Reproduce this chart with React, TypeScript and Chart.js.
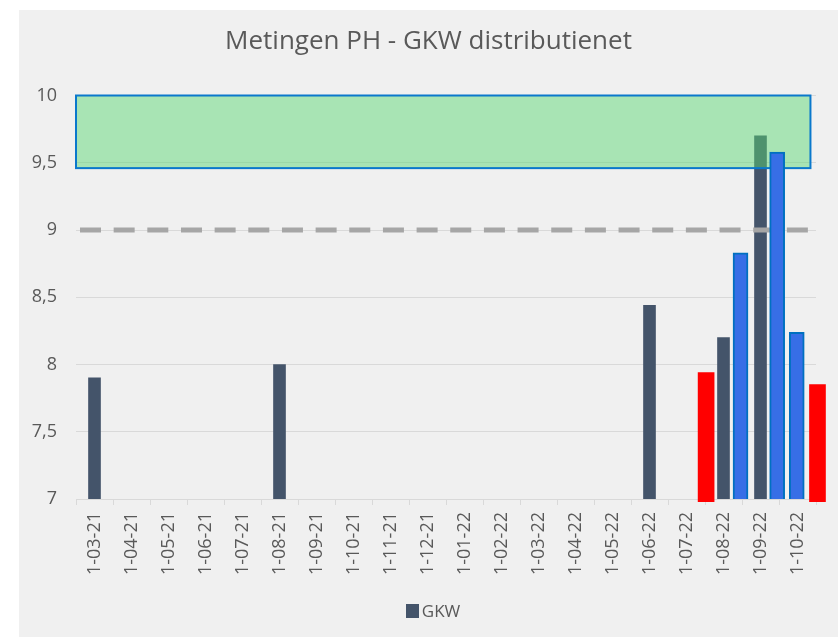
import { useEffect, useRef } from 'react';
import { Chart, registerables } from 'chart.js';

Chart.register(...registerables);

// ---- data ----
const categories = [
  '1-03-21', '1-04-21', '1-05-21', '1-06-21', '1-07-21', '1-08-21', '1-09-21',
  '1-10-21', '1-11-21', '1-12-21', '1-01-22', '1-02-22', '1-03-22', '1-04-22',
  '1-05-22', '1-06-22', '1-07-22', '1-08-22', '1-09-22', '1-10-22',
];
const gkwDates = ['1-03-21', '1-08-21', '1-06-22', '1-08-22', '1-09-22'];
const gkwValues = [7.9, 8.0, 8.44, 8.2, 9.7];
// extra (blue) measurements, x in month-index units of the axis
const extraX = [17.96, 18.95, 19.48];
const extraValues = [8.83, 9.58, 8.24];
// red markers
const flagX = [17.03, 20.04];
const flagValues = [7.94, 7.85];
const flagBase = 6.98;
// target band and limit
const bandRange = [9.46, 10];
const bandEndX = 19.85;
const limitValue = 9;
const yMin = 7;
const yMax = 10;
const yStep = 0.5;
const legendLabel = 'GKW';

const TEXT = '#595959';
const FONT = 'Open Sans';
const GKW_COLOR = '#44546A';

const overlayPlugin = {
  id: 'overlay',
  afterDatasetDraw(chart: any, args: any) {
    if (args.index !== 0) return;
    const { ctx, scales } = chart;
    const xs = scales.xv;
    const ys = scales.y;
    const x0 = xs.getPixelForValue(0);
    const x1 = xs.getPixelForValue(bandEndX);
    ctx.save();
    // dashed limit line
    const yl = ys.getPixelForValue(limitValue);
    ctx.strokeStyle = '#A6A6A6';
    ctx.lineWidth = 5;
    ctx.setLineDash([21, 12.66]);
    ctx.lineDashOffset = 29.66;
    ctx.beginPath();
    ctx.moveTo(x0, yl);
    ctx.lineTo(x1, yl);
    ctx.stroke();
    ctx.setLineDash([]);
    // target band
    const yTop = ys.getPixelForValue(bandRange[1]);
    const yBot = ys.getPixelForValue(bandRange[0]);
    ctx.fillStyle = 'rgba(90,215,115,0.48)';
    ctx.fillRect(x0, yTop, x1 - x0, yBot - yTop);
    ctx.strokeStyle = '#0A78CC';
    ctx.lineWidth = 2;
    ctx.strokeRect(x0, yTop, x1 - x0, yBot - yTop);
    ctx.restore();
  },
};

const legendPlugin = {
  id: 'simpleLegend',
  afterDraw(chart: any) {
    const { ctx } = chart;
    const cx = chart.width / 2 + 4.5;
    const cy = chart.height - 26;
    ctx.save();
    ctx.font = `17px "${FONT}"`;
    const tw = ctx.measureText(legendLabel).width;
    const box = 13;
    const gap = 3;
    const total = box + gap + tw;
    const x = cx - total / 2;
    ctx.fillStyle = GKW_COLOR;
    ctx.fillRect(Math.round(x), Math.round(cy - 7), box, 14);
    ctx.fillStyle = TEXT;
    ctx.textBaseline = 'middle';
    ctx.textAlign = 'left';
    ctx.fillText(legendLabel, x + box + gap, cy + 1);
    ctx.restore();
  },
};

export default function App() {
  const ref = useRef<HTMLCanvasElement>(null);

  useEffect(() => {
    if (!ref.current) return;
    const chart = new Chart(ref.current, {
      type: 'bar',
      data: {
        labels: categories,
        datasets: [
          {
            label: legendLabel,
            data: gkwDates.map((d, i) => ({ x: categories.indexOf(d) + 0.5, y: gkwValues[i] })),
            backgroundColor: GKW_COLOR,
            borderWidth: 0,
            barThickness: 12,
            grouped: false,
            xAxisID: 'xv',
            order: 3,
          } as any,
          {
            label: 'extra',
            data: extraX.map((x, i) => ({ x, y: extraValues[i] })),
            backgroundColor: '#376EE6',
            borderColor: '#0070C0',
            borderWidth: 2,
            borderSkipped: false,
            barThickness: 15,
            grouped: false,
            xAxisID: 'xv',
            order: 2,
          } as any,
          {
            label: 'flag',
            data: flagX.map((x, i) => ({ x, y: [flagBase, flagValues[i]] })),
            backgroundColor: '#FF0000',
            borderWidth: 0,
            barThickness: 16,
            grouped: false,
            xAxisID: 'xv',
            order: 1,
            clip: false,
          } as any,
        ],
      },
      options: {
        responsive: false,
        animation: false,
        devicePixelRatio: 1,
        layout: { padding: { left: 0, right: 0, top: 0, bottom: 44 } },
        scales: {
          x: {
            type: 'category',
            labels: categories,
            offset: true,
            grid: {
              offset: true,
              drawOnChartArea: false,
              drawTicks: true,
              tickLength: 6,
              color: '#D9D9D9',
            },
            border: { display: true, color: '#D9D9D9' },
            ticks: {
              autoSkip: false,
              minRotation: 90,
              maxRotation: 90,
              padding: 7,
              color: TEXT,
              font: { family: FONT, size: 18 },
            },
            afterFit: (s: any) => { s.height = 94; },
          } as any,
          xv: {
            type: 'linear',
            axis: 'x',
            display: false,
            min: 0,
            max: categories.length,
            offset: false,
            grid: { offset: false },
          } as any,
          y: {
            type: 'linear',
            min: yMin,
            max: yMax,
            border: { display: false },
            grid: { color: '#D9D9D9', drawTicks: false },
            ticks: {
              stepSize: yStep,
              padding: 19,
              color: TEXT,
              font: { family: FONT, size: 18 },
              callback: (v: any) => String(v).replace('.', ','),
            },
            afterFit: (s: any) => { s.width = 57; },
          } as any,
          yr: {
            type: 'linear',
            position: 'right',
            display: true,
            border: { display: false },
            grid: { display: false, drawTicks: false },
            ticks: { display: false },
            afterFit: (s: any) => { s.width = 22; },
          } as any,
        },
        plugins: {
          title: {
            display: true,
            text: 'Metingen PH - GKW distributienet',
            color: TEXT,
            font: { family: FONT, size: 26, weight: 'normal' },
            padding: { top: 16, bottom: 38.3 },
          },
          legend: { display: false },
          tooltip: { enabled: false },
        },
      },
      plugins: [overlayPlugin, legendPlugin],
    });
    return () => chart.destroy();
  }, []);

  return (
    <div style={{ position: 'fixed', left: 0, top: 0, width: 838, height: 637, background: '#FFFFFF' }}>
      <div style={{ position: 'absolute', left: 19, top: 10, width: 819, height: 627, background: '#F0F0F0' }}>
        <canvas ref={ref} width={819} height={627} style={{ display: 'block' }} />
      </div>
    </div>
  );
}
